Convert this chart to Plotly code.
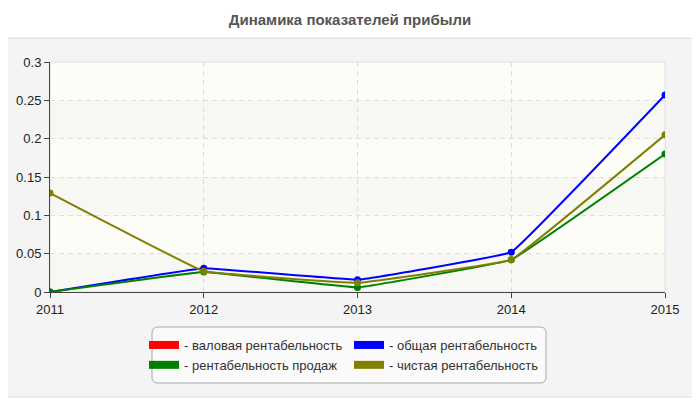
import plotly.graph_objects as go

years = [2011, 2012, 2013, 2014, 2015]

# значения рентабельности по годам
valovaya = [None, None, None, None, None]
obshaya = [0.0, 0.031, 0.016, 0.052, 0.257]
prodazh = [0.0, 0.026, 0.006, 0.042, 0.180]
chistaya = [0.129, 0.027, 0.012, 0.042, 0.205]

names = ["- валовая рентабельность", "- общая рентабельность",
         "- рентабельность продаж", "- чистая рентабельность"]
colors = ["#ff0000", "#0000ff", "#008000", "#808000"]
series = [valovaya, obshaya, prodazh, chistaya]
legend_cols = ["legend", "legend2", "legend", "legend2"]

y_ticks = [0, 0.05, 0.1, 0.15, 0.2, 0.25, 0.3]

fig = go.Figure()

for name, col, vals in zip(names, colors, series):
    fig.add_trace(go.Scatter(
        x=years, y=vals, mode="lines+markers", name=name,
        line=dict(color=col, width=2, shape="spline", smoothing=0.15),
        marker=dict(color=col, size=7),
        showlegend=False,
    ))

# отдельные записи для легенды (цветные плашки), две колонки
for name, col, lg in zip(names, colors, legend_cols):
    fig.add_trace(go.Scatter(
        x=[None], y=[None], mode="lines", name=name, legend=lg,
        line=dict(color=col, width=8),
    ))

# страница сдвигает график на 8px (отступ body), поэтому всё в координатах фигуры
FW, FH = 692, 392
L, R, T, B = 42, 657, 54, 284
W, H = R - L, B - T
px = lambda v: (v - L) / W
py = lambda v: (B - v) / H


def rounded(x0, y0, x1, y1, r):
    return (f"M{px(x0 + r)},{py(y0)} L{px(x1 - r)},{py(y0)} "
            f"Q{px(x1)},{py(y0)} {px(x1)},{py(y0 + r)} "
            f"L{px(x1)},{py(y1 - r)} Q{px(x1)},{py(y1)} {px(x1 - r)},{py(y1)} "
            f"L{px(x0 + r)},{py(y1)} Q{px(x0)},{py(y1)} {px(x0)},{py(y1 - r)} "
            f"L{px(x0)},{py(y0 + r)} Q{px(x0)},{py(y0)} {px(x0 + r)},{py(y0)} Z")


fig.add_shape(type="path", xref="paper", yref="paper", layer="below",
              path=rounded(-6, 30, 689, 389, 8),
              fillcolor="#f4f4f4", line=dict(color="#dddddd", width=1))
fig.add_shape(type="path", xref="paper", yref="paper", layer="below",
              path=rounded(144, 319, 538, 375, 6),
              fillcolor="#fafafa", line=dict(color="#aaaaaa", width=1))

# полосы фона: заштрихованные чередуются с гладкими
for i in range(len(y_ticks) - 1):
    fig.add_shape(type="rect", xref="x domain", yref="y", layer="below",
                  x0=0, x1=1, y0=y_ticks[i], y1=y_ticks[i + 1],
                  fillcolor="#f7f7f4" if i % 2 == 0 else "#fdfdf8",
                  line=dict(width=0))
fig.add_shape(type="rect", xref="x domain", yref="y domain", layer="below",
              x0=0, x1=1, y0=0, y1=1, line=dict(color="#dedede", width=1))

leg_common = dict(orientation="v", xanchor="left", yanchor="top",
                  bgcolor="rgba(0,0,0,0)", borderwidth=0, itemwidth=30,
                  tracegroupgap=0, font=dict(size=13, color="#333333"))

fig.update_layout(
    width=FW, height=FH,
    margin=dict(l=L, r=FW - R, t=T, b=FH - B, autoexpand=False),
    paper_bgcolor="white",
    plot_bgcolor="#fdfdf8",
    font=dict(family="Liberation Sans, Arial, sans-serif", size=13, color="#333333"),
    title=dict(text="<b>Динамика показателей прибыли</b>", x=342 / FW, xref="container",
               xanchor="center", y=1 - 12 / FH, yanchor="middle",
               font=dict(size=15, color="#555555")),
    legend=dict(x=px(136), y=py(322), **leg_common),
    legend2=dict(x=px(341), y=py(322), **leg_common),
    xaxis=dict(range=[2011, 2015], tickvals=years, ticks="outside", ticklen=5,
               tickcolor="#444", showline=True, linecolor="#444", linewidth=1,
               showgrid=True, gridcolor="#dddddd", griddash="5px,4px", zeroline=False,
               tickfont=dict(size=13, color="#222")),
    yaxis=dict(range=[0, 0.3], tickvals=y_ticks, ticks="outside", ticklen=5,
               tickcolor="#444", showline=True, linecolor="#444", linewidth=1,
               showgrid=True, gridcolor="#dddddd", griddash="5px,4px", zeroline=False,
               tickfont=dict(size=13, color="#222")),
)

fig.write_html("out.html")
